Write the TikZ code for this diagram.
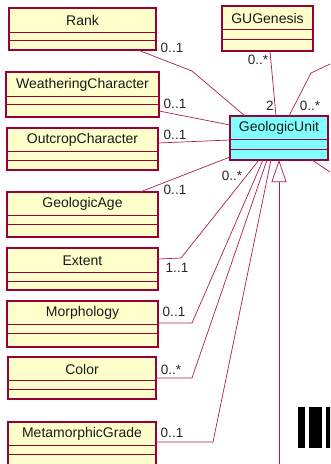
\documentclass[tikz,border=0pt]{standalone}
\usepackage{fontspec}
\setmainfont{Liberation Sans}
\usetikzlibrary{arrows.meta}
\definecolor{uborder}{RGB}{153,0,51}
\definecolor{uyellow}{RGB}{255,255,204}
\definecolor{ucyan}{RGB}{128,255,255}
\definecolor{uline}{RGB}{170,30,80}
\tikzset{
  ubox/.style={draw=uborder, line width=1.1pt, inner sep=0pt, outer sep=0pt, anchor=north west},
  utitle/.style={font=\fontsize{14}{15}\selectfont, inner sep=0pt, text=black!90},
  ucomp/.style={draw=uborder, line width=0.8pt},
  conn/.style={draw=uline, line width=0.7pt},
  mult/.style={font=\fontsize{13.5}{14}\selectfont, inner sep=0pt, text=black!85},
  bar/.style={fill=black, draw=none}
}
\newcommand\umlbox[9]{%
  \node[ubox, fill=#8, minimum width={(#4-#2)*1pt}, minimum height={(#5-#3)*1pt}] (#1) at (#2,#3) {};
  \node[utitle] (#1-t) at ({(#2+#4)/2},{(#3+#6)/2+0.5}) {#9};
  \draw[ucomp] (#2,#6) -- (#4,#6);
  \draw[ucomp] (#2,#7) -- (#4,#7);
}
\begin{document}
\begin{tikzpicture}[x=1pt,y=-1pt]
\useasboundingbox (0,0) rectangle (330,464);
\begin{scope}
\clip (0,0) rectangle (330,464);
\umlbox{rank}{9}{8}{156}{50}{32}{40}{uyellow}{Rank}
\umlbox{gug}{222}{6}{313}{51}{29}{39}{uyellow}{GUGenesis}
\umlbox{wc}{6}{72}{159}{117}{96}{104}{uyellow}{WeatheringCharacter}
\umlbox{oc}{7}{128}{158}{170}{151}{160}{uyellow}{OutcropCharacter}
\umlbox{ga}{7}{192}{158}{237}{215}{224}{uyellow}{GeologicAge}
\umlbox{ext}{7}{248}{158}{290}{272}{281}{uyellow}{Extent}
\umlbox{mor}{7}{301}{158}{347}{324}{333}{uyellow}{Morphology}
\umlbox{col}{8}{357}{156}{399}{380}{389}{uyellow}{Color}
\umlbox{mg}{8}{422}{156}{480}{445}{454}{uyellow}{MetamorphicGrade}
\umlbox{gu}{230}{116}{328}{160}{139}{149}{ucyan}{GeologicUnit}

% connectors
\coordinate (rtop) at (330,64);
\coordinate (rbot) at (330,172);
\coordinate (gbot) at (279,470);
\draw[conn] (138,0 |- rank.south) -- (192,71) -- (245,0 |- gu.north);
\draw[conn] (270,0 |- gug.south) -- (276,0 |- gu.north);
\draw[conn] (289,0 |- gu.north) -- (311,73) -- (rtop);
\draw[conn] (wc.east |- 0,111) -- (gu.west |- 0,125);
\draw[conn] (oc.east |- 0,143) -- (gu.west |- 0,140);
\draw[conn] (140,0 |- ga.north) -- (gu.west |- 0,157);
\draw[conn] (ext.east |- 0,259) -- (181,258) -- (259,0 |- gu.south);
\draw[conn] (mor.east |- 0,323) -- (192,323) -- (263,0 |- gu.south);
\draw[conn] (col.east |- 0,378) -- (192,378) -- (267,0 |- gu.south);
\draw[conn] (mg.east |- 0,442) -- (213,442) -- (271,0 |- gu.south);
\draw[conn] (312,0 |- gu.south) -- (rbot);
\draw[conn, -{Triangle[open, width=15pt, length=22pt, fill=white]}] (gbot) -- (279,0 |- gu.south);

% multiplicities
\node[mult] (m1) at (172,48) {0..1};
\node[mult] (m2) at (258,60) {0..*};
\node[mult] (m3) at (270,106) {2};
\node[mult] (m4) at (310,106) {0..*};
\node[mult] (m5) at (175,104) {0..1};
\node[mult] (m6) at (175,135) {0..1};
\node[mult] (m7) at (175,190) {0..1};
\node[mult] (m8) at (232,176) {0..*};
\node[mult] (m9) at (177,268) {1..1};
\node[mult] (m10) at (174,312) {0..1};
\node[mult] (m11) at (171,370) {0..*};
\node[mult] (m12) at (172,433) {0..1};

% black bars
\fill[bar] (298,407) rectangle (305,448);
\fill[bar] (309,407) rectangle (322,448);
\fill[bar] (326,407) rectangle (331,448);
\end{scope}
\end{tikzpicture}
\end{document}
